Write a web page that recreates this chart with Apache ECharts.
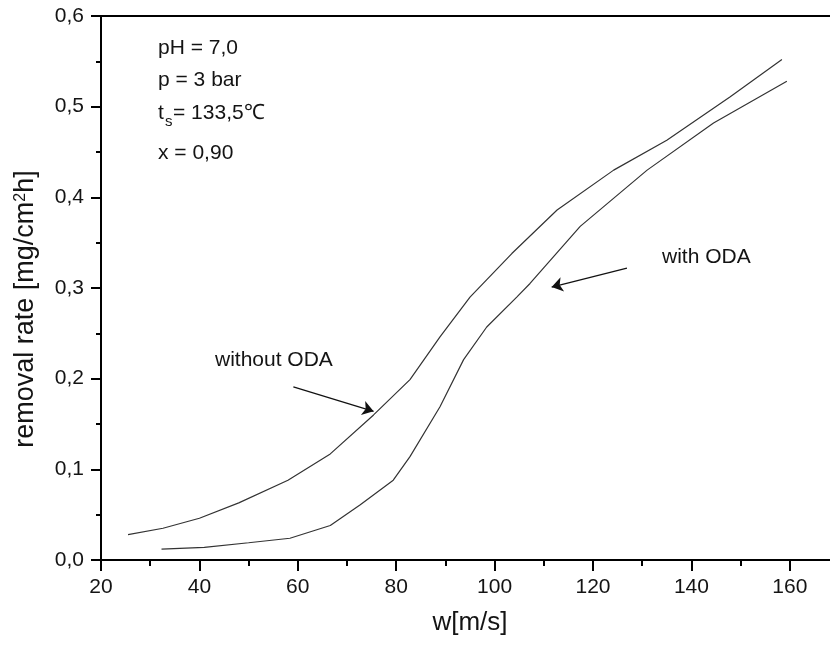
<!DOCTYPE html>
<html>
<head>
<meta charset="utf-8">
<script src="https://cdn.jsdelivr.net/npm/echarts@6/dist/echarts.min.js"></script>
<style>html,body{margin:0;padding:0;background:#fff}#c{width:830px;height:645px}</style>
</head>
<body>
<div id="c"></div>
<script>
// data: [w (m/s), removal rate (mg/cm2h)]
var withoutODA = [
  [25.5,0.028],[32.6,0.035],[40,0.046],[48,0.063],[58,0.088],[66.6,0.117],
  [75.4,0.160],[82.8,0.199],[88.9,0.246],[95,0.290],[103.5,0.338],[112.7,0.386],
  [124.2,0.430],[135,0.463],[147.9,0.511],[158.4,0.552]
];
var withODA = [
  [32.3,0.012],[41,0.014],[50,0.019],[58.4,0.024],[66.6,0.038],[72.7,0.061],
  [79.4,0.088],[82.8,0.114],[88.9,0.169],[93.7,0.221],[98.4,0.257],[104.5,0.290],
  [107.2,0.305],[117.4,0.368],[131,0.430],[144.5,0.482],[159.4,0.528]
];
// annotation arrows, data coordinates [from, to]
var arrowWithout = [[59.1,0.191],[75.4,0.164]];
var arrowWith = [[126.9,0.322],[111.6,0.301]];
var xTicks = {min:20, max:170, major:20, minor:10};
var yTicks = {min:0, max:0.6, major:0.1};

var FONT = '"Liberation Sans", Arial, sans-serif';
var TXT = '#141414';
var chart = echarts.init(document.getElementById('c'), null, {renderer:'canvas'});
var grid = {left:101, top:16, width:738, height:544, outerBoundsMode:'none', containLabel:false};
var axisLine = {show:true, lineStyle:{color:'#000', width:2}};

chart.setOption({
  animation:false,
  backgroundColor:'#fff',
  grid: grid,
  xAxis: [
    {type:'value', position:'bottom', min:xTicks.min, max:xTicks.max, interval:xTicks.major,
     axisLine:axisLine, splitLine:{show:false},
     axisTick:{show:true, inside:false, length:11, lineStyle:{color:'#000', width:2}},
     axisLabel:{show:true, margin:17, fontSize:21, color:TXT, fontFamily:FONT,
       formatter:function(v){return v<=160?String(v):'';}},
     name:'w[m/s]', nameLocation:'middle', nameGap:50,
     nameTextStyle:{fontSize:26, color:TXT, fontFamily:FONT}},
    {type:'value', position:'bottom', min:xTicks.min, max:xTicks.max, interval:xTicks.minor,
     axisLine:{show:false}, splitLine:{show:false}, axisLabel:{show:false},
     axisTick:{show:true, length:6, lineStyle:{color:'#000', width:2}}},
    {type:'value', position:'top', min:xTicks.min, max:xTicks.max,
     axisLine:axisLine, splitLine:{show:false}, axisLabel:{show:false}, axisTick:{show:false}}
  ],
  yAxis: [
    {type:'value', min:yTicks.min, max:yTicks.max, interval:yTicks.major,
     axisLine:axisLine, splitLine:{show:false},
     axisTick:{show:true, length:10, lineStyle:{color:'#000', width:2}},
     minorTick:{show:true, splitNumber:2, length:5, lineStyle:{color:'#000', width:2}},
     axisLabel:{margin:17, fontSize:21, color:TXT, fontFamily:FONT,
       formatter:function(v){return v.toFixed(1).replace('.', ',');}}}
  ],
  series: [
    {type:'line', name:'without ODA', data:withoutODA, showSymbol:false, symbol:'none',
     lineStyle:{color:'#333', width:1.2}, silent:true,
     markLine:{silent:true, symbol:['none','arrow'], symbolSize:11, label:{show:false},
       lineStyle:{color:'#111', width:1.2, type:'solid'},
       data:[
         [{coord:arrowWithout[0]},{coord:arrowWithout[1]}],
         [{coord:arrowWith[0]},{coord:arrowWith[1]}]
       ]}},
    {type:'line', name:'with ODA', data:withODA, showSymbol:false, symbol:'none',
     lineStyle:{color:'#333', width:1.2}, silent:true}
  ],
  graphic: [
    {type:'text', x:26, y:309, rotation:Math.PI/2,
     style:{text:'removal rate [mg/cm{sup|2}h]', font:'27px '+FONT, fill:TXT,
       align:'center', verticalAlign:'middle',
       rich:{sup:{fontSize:16, verticalAlign:'top', fill:TXT, fontFamily:FONT}}}},
    {type:'text', x:158, y:48, style:{text:'pH = 7,0', font:'21px '+FONT, fill:TXT, verticalAlign:'middle'}},
    {type:'text', x:158, y:80, style:{text:'p = 3 bar', font:'21px '+FONT, fill:TXT, verticalAlign:'middle'}},
    {type:'text', x:158, y:113, style:{text:'t', font:'21px '+FONT, fill:TXT, verticalAlign:'middle'}},
    {type:'text', x:165, y:122, style:{text:'s', font:'15px '+FONT, fill:TXT, verticalAlign:'middle'}},
    {type:'text', x:173, y:113, style:{text:'= 133,5\u2103', font:'21px '+FONT, fill:TXT, verticalAlign:'middle'}},
    {type:'text', x:158, y:153, style:{text:'x = 0,90', font:'21px '+FONT, fill:TXT, verticalAlign:'middle'}},
    {type:'text', x:215, y:360, style:{text:'without ODA', font:'21px '+FONT, fill:TXT, verticalAlign:'middle'}},
    {type:'text', x:662, y:257, style:{text:'with ODA', font:'21px '+FONT, fill:TXT, verticalAlign:'middle'}}
  ]
});
</script>
</body>
</html>
